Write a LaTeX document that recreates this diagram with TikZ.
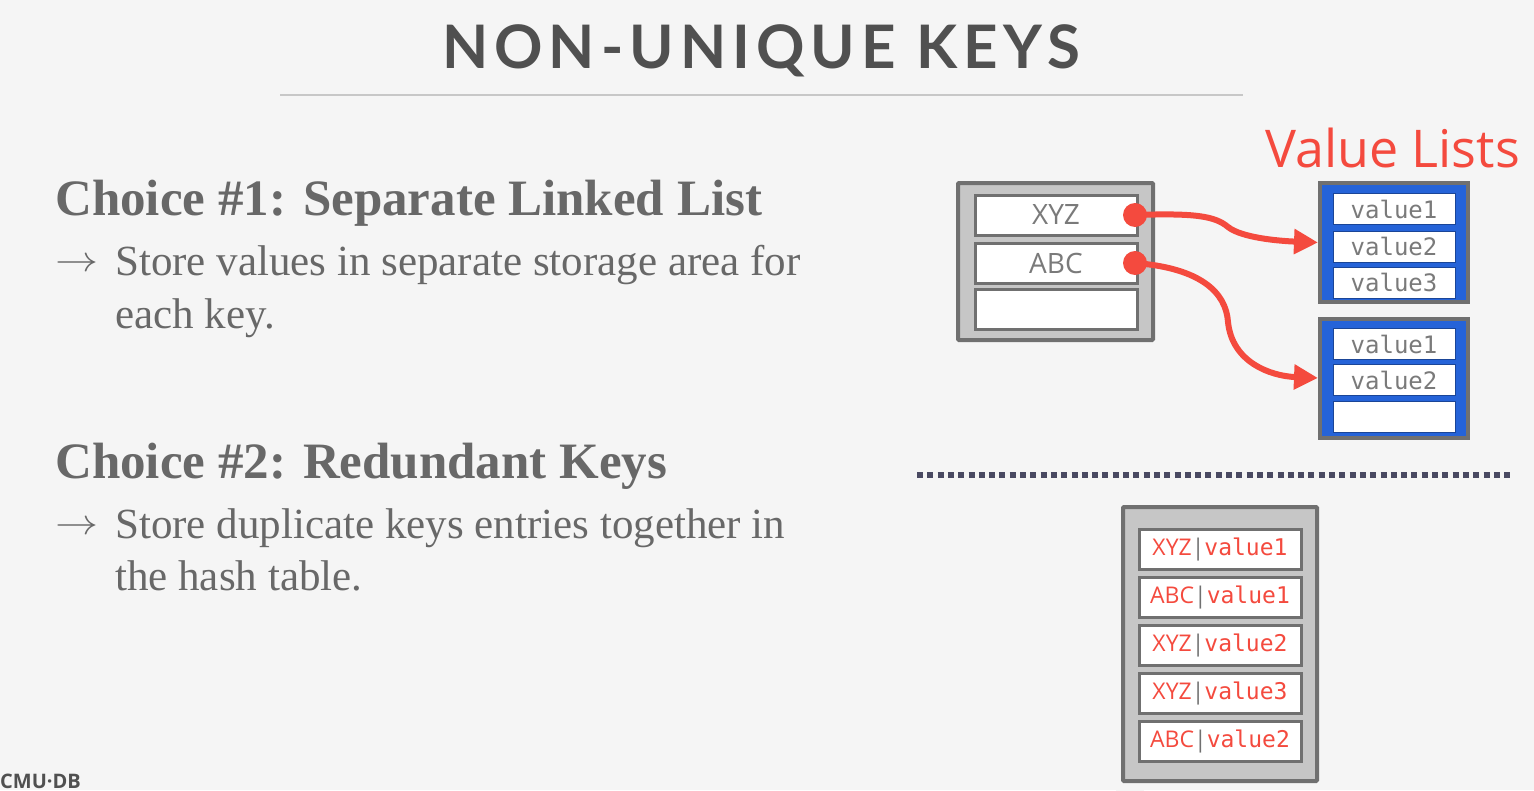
\documentclass[tikz,border=0pt]{standalone}
\usepackage{fontspec}
\setmainfont{Liberation Serif}
\newfontfamily\titlefont[LetterSpace=10]{Lato}
\newfontfamily\keyfont{Open Sans}
\newfontfamily\valfont{DejaVu Sans Mono}
\newfontfamily\redfont{Open Sans}
\usetikzlibrary{arrows.meta}
\definecolor{bgc}{HTML}{F5F5F5}
\definecolor{txt}{HTML}{686868}
\definecolor{ttl}{HTML}{505050}
\definecolor{redc}{HTML}{F44A3E}
\definecolor{bluec}{HTML}{2563D8}
\definecolor{bordc}{HTML}{707070}
\definecolor{fillc}{HTML}{C6C6C6}
\definecolor{dotc}{HTML}{4A4A62}
\definecolor{keyc}{HTML}{7A7A7A}
\tikzset{
  outerbox/.style={draw=bordc, fill=fillc, line width=4pt, rounded corners=1pt, inner sep=0pt},
  slotbox/.style={draw=bordc, fill=white, line width=3pt, inner sep=0pt, minimum width=162pt, minimum height=40pt},
  vlbox/.style={draw=bordc, fill=bluec, line width=4pt, inner sep=0pt, minimum width=148pt, minimum height=119pt},
  vslot/.style={fill=white, draw=bluec!70!black, line width=1pt, inner sep=0pt, minimum width=122pt, minimum height=31pt, font=\valfont\fontsize{24}{24}\selectfont, text=keyc},
  keytext/.style={font=\keyfont\fontsize{28}{28}\selectfont, text=keyc},
  pair/.style={font=\fontsize{23}{23}\selectfont, text=redc},
  dotnode/.style={circle, fill=redc, inner sep=0pt, minimum size=24pt},
  link/.style={draw=redc, line width=6pt, -{Triangle[length=24pt,width=24pt]}},
  heading/.style={anchor=base west, inner sep=0pt, text=txt, font=\bfseries\fontsize{51}{51}\selectfont},
  body/.style={anchor=base west, inner sep=0pt, text=txt, font=\fontsize{43}{43}\selectfont},
  arrowtext/.style={anchor=base west, inner sep=0pt, text=txt},
}
\newcommand{\kv}[2]{{\keyfont #1}{\color{bordc}\keyfont|}{\valfont #2}}
\newcommand{\bularrow}{\scalebox{4.3}[3.6]{$\rightarrow$}}
\begin{document}
\begin{tikzpicture}[x=1pt,y=-1pt]
\useasboundingbox (0,0) rectangle (1534,790);
\fill[bgc] (0,0) rectangle (1534,790);
\begin{scope}
\clip (0,0) rectangle (1534,790);
\draw[color=black!4, line width=28pt] (1390,480) ellipse [x radius=260, y radius=85];
\draw[color=black!4, line width=28pt] (1130,480) -- (1130,800);
\end{scope}
% title
\node[anchor=base, inner sep=0pt, text=ttl, font=\titlefont\bfseries\fontsize{60}{60}\selectfont] (title) at (761,68) {NON-UNIQUE KEYS};
\draw[color=black!22, line width=2.5pt] (280,95) -- (1243,95);
% left text
\node[heading] (h1) at (55,215) {Choice \#1: Separate Linked List};
\node[arrowtext] (a1) at (55,271) {\bularrow};
\node[body] (b1a) at (115,275) {Store values in separate storage area for};
\node[body] (b1b) at (115,328) {each key.};
\node[heading] (h2) at (55,478) {Choice \#2: Redundant Keys};
\node[arrowtext] (a2) at (55,534) {\bularrow};
\node[body] (b2a) at (115,538) {Store duplicate keys entries together in};
\node[body] (b2b) at (115,590) {the hash table.};
\node[anchor=base west, inner sep=0pt, text=ttl, font=\keyfont\bfseries\fontsize{20}{20}\selectfont] (cmu) at (0,788) {CMU·DB};
% value lists label
\node[anchor=base west, inner sep=0pt, text=redc, font=\redfont\fontsize{52}{52}\selectfont] (vlab) at (1265,167) {Value Lists};
% hash table 1
\node[outerbox, minimum width=195pt, minimum height=157pt] (ht1) at (1055.5,261.5) {};
\node[slotbox, keytext] (k1) at (1056,215) {XYZ};
\node[slotbox, keytext] (k2) at (1056,263) {ABC};
\node[slotbox] (k3) at (1056,309.5) {};
% value list 1
\node[vlbox] (vl1) at (1394,242.5) {};
\node[vslot] (v11) at (1394,209) {value1};
\node[vslot] (v12) at (1394,246.5) {value2};
\node[vslot] (v13) at (1394,282.5) {value3};
% value list 2
\node[vlbox] (vl2) at (1394,378) {};
\node[vslot] (v21) at (1394,344) {value1};
\node[vslot] (v22) at (1394,380) {value2};
\node[vslot] (v23) at (1394,416.5) {};
% links
\node[dotnode] (d1) at (1135,215) {};
\node[dotnode] (d2) at (1135,263) {};
\draw[link] (d1.center) .. controls (1195,213) and (1215,216) .. (1228,227) .. controls (1242,238) and (1280,241) .. (vl1.west);
\draw[link] (d2.center) .. controls (1200,268) and (1226,292) .. (1228,322) .. controls (1232,362) and (1270,376) .. (vl2.west);
% separator
\draw[dotc, line width=6pt, dash pattern=on 6pt off 4.3pt] (917,475) -- (1512,475);
% hash table 2
\node[outerbox, minimum width=194pt, minimum height=274pt] (ht2) at (1220,644) {};
\node[slotbox, pair] (p1) at (1220,549) {\kv{XYZ}{value1}};
\node[slotbox, pair] (p2) at (1220,597) {\kv{ABC}{value1}};
\node[slotbox, pair] (p3) at (1220,645) {\kv{XYZ}{value2}};
\node[slotbox, pair] (p4) at (1220,693.5) {\kv{XYZ}{value3}};
\node[slotbox, pair] (p5) at (1220,741.5) {\kv{ABC}{value2}};
\end{tikzpicture}
\end{document}
